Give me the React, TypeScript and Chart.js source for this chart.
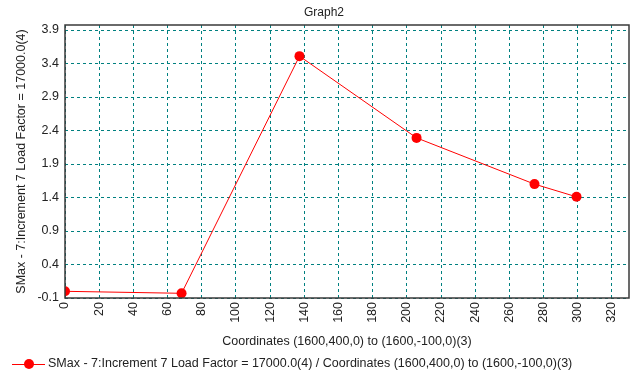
import React, { useEffect, useRef } from "react";
import { Chart, registerables } from "chart.js";

Chart.register(...registerables);

const titleText = "Graph2";
const xTitle = "Coordinates (1600,400,0) to (1600,-100,0)(3)";
const yTitle = "SMax - 7:Increment 7 Load Factor = 17000.0(4)";
const seriesLabel = "SMax - 7:Increment 7 Load Factor = 17000.0(4) / Coordinates (1600,400,0) to (1600,-100,0)(3)";

const xValues = [0, 68.2, 137.2, 205.7, 274.7, 299.3];
const yValues = [0.0, -0.03, 3.51, 2.29, 1.6, 1.41];

const xTicks = [0, 20, 40, 60, 80, 100, 120, 140, 160, 180, 200, 220, 240, 260, 280, 300, 320];
const yTicks = [-0.1, 0.4, 0.9, 1.4, 1.9, 2.4, 2.9, 3.4, 3.9];

const FONT = "'Liberation Sans', Arial, sans-serif";
const TEXT = "#222";

const decorPlugin = {
  id: "decorPlugin",
  afterDraw(chart: any) {
    const { ctx, chartArea } = chart;
    ctx.save();
    // plot frame
    ctx.strokeStyle = "#3a3a3a";
    ctx.lineWidth = 1.5;
    ctx.setLineDash([]);
    ctx.strokeRect(chartArea.left, chartArea.top, chartArea.right - chartArea.left, chartArea.bottom - chartArea.top);
    // title
    ctx.fillStyle = TEXT;
    ctx.font = `12px ${FONT}`;
    ctx.textAlign = "center";
    ctx.textBaseline = "middle";
    ctx.fillText(titleText, 324, 13);
    // legend
    const ly = 364;
    ctx.strokeStyle = "rgb(255,0,0)";
    ctx.lineWidth = 1;
    ctx.beginPath();
    ctx.moveTo(12, ly + 0.5);
    ctx.lineTo(45, ly + 0.5);
    ctx.stroke();
    ctx.fillStyle = "rgb(255,0,0)";
    ctx.beginPath();
    ctx.arc(29, ly, 5, 0, Math.PI * 2);
    ctx.fill();
    ctx.fillStyle = TEXT;
    ctx.font = `12.5px ${FONT}`;
    ctx.textAlign = "left";
    ctx.fillText(seriesLabel, 48, ly);
    ctx.restore();
  },
};

export default function App() {
  const ref = useRef<HTMLCanvasElement>(null);
  useEffect(() => {
    if (!ref.current) return;
    const chart = new Chart(ref.current, {
      type: "line",
      data: {
        datasets: [
          {
            label: seriesLabel,
            data: xValues.map((x, i) => ({ x, y: yValues[i] })),
            borderColor: "rgb(255,0,0)",
            backgroundColor: "rgb(255,0,0)",
            borderWidth: 1,
            pointRadius: 5,
            pointHoverRadius: 5,
            pointBorderWidth: 0,
            tension: 0,
          },
        ],
      },
      options: {
        animation: false,
        responsive: false,
        maintainAspectRatio: false,
        layout: { padding: { left: 4, right: 4, top: 25, bottom: 24 } },
        plugins: {
          title: { display: false },
          legend: { display: false },
          tooltip: { enabled: false },
        },
        scales: {
          x: {
            type: "linear",
            min: 0,
            max: 330,
            afterBuildTicks: (scale: any) => {
              scale.ticks = xTicks.map((v) => ({ value: v }));
            },
            afterFit: (scale: any) => {
              scale.height = 51;
            },
            ticks: {
              autoSkip: false,
              minRotation: 90,
              maxRotation: 90,
              color: TEXT,
              font: { family: FONT, size: 12.5 },
              padding: 4,
              callback: (v: any) => String(v),
            },
            grid: { color: "#008080", lineWidth: 1, drawTicks: false },
            border: { display: false, dash: [3, 3] },
            title: {
              display: true,
              text: xTitle,
              color: TEXT,
              font: { family: FONT, size: 12.5 },
              padding: { top: 0, bottom: 0 },
            },
          },
          y: {
            type: "linear",
            min: -0.1,
            max: 3.975,
            afterBuildTicks: (scale: any) => {
              scale.ticks = yTicks.map((v) => ({ value: v }));
            },
            afterFit: (scale: any) => {
              scale.width = 61;
            },
            ticks: {
              color: TEXT,
              font: { family: FONT, size: 12.5 },
              padding: 6,
              callback: (v: any) => Number(v).toFixed(1),
            },
            grid: { color: "#008080", lineWidth: 1, drawTicks: false },
            border: { display: false, dash: [3, 3] },
            title: {
              display: true,
              text: yTitle,
              color: TEXT,
              font: { family: FONT, size: 12.5 },
              padding: { top: 10, bottom: 0 },
            },
          },
        },
      },
      plugins: [decorPlugin],
    });
    return () => chart.destroy();
  }, []);
  return (
    <div style={{ position: "fixed", left: 0, top: 0, width: 634, height: 373, background: "#fff" }}>
      <canvas ref={ref} width={634} height={373} style={{ width: 634, height: 373 }} />
    </div>
  );
}
